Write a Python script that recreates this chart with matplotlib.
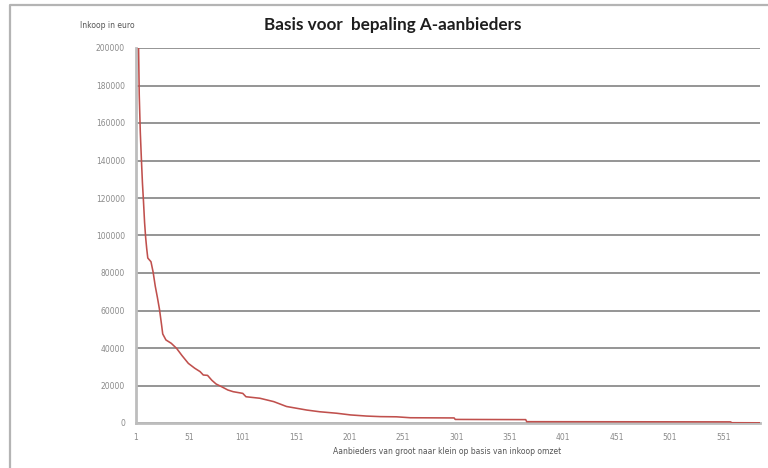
import matplotlib.pyplot as plt
from matplotlib.lines import Line2D

# Suppliers ranked from large to small
rank = [1, 2, 3, 4, 5, 6, 7, 8, 9, 10, 11, 12, 15, 17, 19, 21, 23, 25, 26,
        29, 34, 39, 44, 50, 56, 61, 64, 68, 72, 76, 81, 87, 92, 101, 104,
        117, 130, 142, 152, 161, 173, 189, 202, 217, 230, 245, 258, 299,
        300, 366, 367, 558, 559, 585]
inkoop = [330000, 260000, 215000, 175000, 155000, 141000, 128000, 118000,
          107000, 99000, 93000, 88000, 86000, 80500, 73000, 67000, 60500,
          52000, 47500, 44300, 42500, 39800, 36000, 31800, 29200, 27400,
          25600, 25400, 22800, 20800, 19400, 17600, 16700, 15800, 14000,
          13200, 11400, 8800, 7800, 6900, 6000, 5200, 4300, 3700, 3400,
          3300, 2800, 2700, 1900, 1800, 700, 600, 150, 100]

x_ticks = list(range(1, 552, 50))
y_ticks = list(range(0, 200001, 20000))

title = "Basis voor  bepaling A-aanbieders"
y_title = "Inkoop in euro"
x_title = "Aanbieders van groot naar klein op basis van inkoop omzet"

fig = plt.figure(figsize=(7.68, 4.68), dpi=100)
ax = fig.add_axes([135.5 / 768, 1 - 423 / 468, (760 - 135.5) / 768, 375 / 468])

# chart frame: only the left and top edge fall inside the crop
fx, fy = 9.5 / 768, 1 - 5 / 468
fig.add_artist(Line2D([fx, fx, 1.0], [0.0, fy, fy], transform=fig.transFigure,
                      color="#b4b4b4", linewidth=1.6, zorder=0))

ax.plot(rank, inkoop, color="#c0504d", linewidth=1.15, zorder=3)

ax.set_xlim(0.5, 585.5)
ax.set_ylim(0, 200000)
ax.set_xticks(x_ticks)
ax.set_xticklabels([str(t) for t in x_ticks])
ax.set_yticks(y_ticks)
ax.set_yticklabels([str(t) for t in y_ticks])

ax.grid(axis="y", color="#8c8c8c", linewidth=1.3, zorder=1)
ax.set_axisbelow(True)
for side in ["top", "right"]:
    ax.spines[side].set_visible(False)
for side in ["left", "bottom"]:
    ax.spines[side].set_color("#bdbdbd")
    ax.spines[side].set_linewidth(2.0)

ax.tick_params(axis="x", length=0, pad=7, labelsize=5.5, labelcolor="#8a8a8a")
ax.tick_params(axis="y", length=0, pad=7.5, labelsize=5.5, labelcolor="#8a8a8a")

fig.text(393 / 768, 1 - 25 / 468, title, ha="center", va="center",
         fontsize=12.3, fontweight="bold", family="Lato", color="#1e1e1e")
fig.text(80 / 768, 1 - 25 / 468, y_title, ha="left", va="center",
         fontsize=5.5, color="#555555")
fig.text(447 / 768, 1 - 452 / 468, x_title, ha="center", va="center",
         fontsize=5.5, color="#555555")

fig.savefig("out.png", dpi=100)
